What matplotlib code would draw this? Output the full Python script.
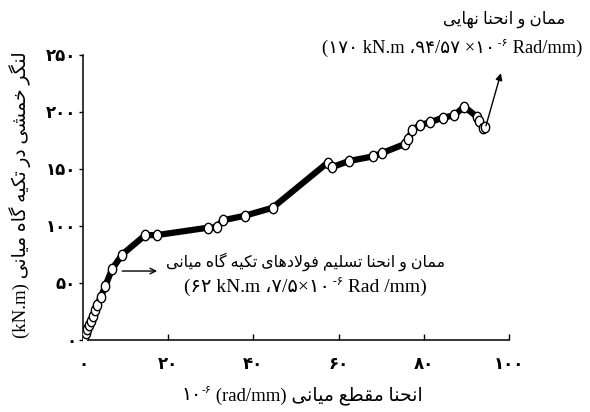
import matplotlib
matplotlib.use("Agg")
import matplotlib.pyplot as plt
import numpy as np
from matplotlib.path import Path

# curvature (x 10^-6 rad/mm) and moment (kN.m)
curv = [0.3, 0.6, 1.0, 1.4, 1.8, 2.3, 2.8, 3.4, 4.2, 5.2, 6.8, 9.2, 14.6, 17.3,
        29.3, 31.4, 32.8, 38.0, 44.5, 57.4, 58.4, 62.4, 68.0, 70.2,
        75.6, 76.4, 77.2, 79.1, 81.5, 84.4, 87.1, 89.5, 92.4, 93.0, 93.8, 94.4]
moment = [3, 6, 10, 13, 17, 21, 26, 31, 38, 47, 62, 75, 92, 92,
          98.5, 99, 105, 109, 116, 155.5, 151.5, 157, 161, 164,
          172, 176, 184, 188.6, 191, 195, 197, 204.7, 196, 192, 185.7, 187]
xticks = [0, 20, 40, 60, 80, 100]
yticks = [0, 50, 100, 150, 200, 250]

FAM = ['Liberation Serif', 'DejaVu Sans']

# minimal persian shaping (matplotlib does no joining / bidi)
FORMS = {
    '\u0627': (0xFE8D, 0xFE8E, None, None),
    '\u062A': (0xFE95, 0xFE96, 0xFE97, 0xFE98),
    '\u062D': (0xFEA1, 0xFEA2, 0xFEA3, 0xFEA4),
    '\u062E': (0xFEA5, 0xFEA6, 0xFEA7, 0xFEA8),
    '\u062F': (0xFEA9, 0xFEAA, None, None),
    '\u0631': (0xFEAD, 0xFEAE, None, None),
    '\u0633': (0xFEB1, 0xFEB2, 0xFEB3, 0xFEB4),
    '\u0634': (0xFEB5, 0xFEB6, 0xFEB7, 0xFEB8),
    '\u0637': (0xFEC1, 0xFEC2, 0xFEC3, 0xFEC4),
    '\u0639': (0xFEC9, 0xFECA, 0xFECB, 0xFECC),
    '\u0641': (0xFED1, 0xFED2, 0xFED3, 0xFED4),
    '\u0642': (0xFED5, 0xFED6, 0xFED7, 0xFED8),
    '\u0644': (0xFEDD, 0xFEDE, 0xFEDF, 0xFEE0),
    '\u0645': (0xFEE1, 0xFEE2, 0xFEE3, 0xFEE4),
    '\u0646': (0xFEE5, 0xFEE6, 0xFEE7, 0xFEE8),
    '\u0647': (0xFEE9, 0xFEEA, 0xFEEB, 0xFEEC),
    '\u0648': (0xFEED, 0xFEEE, None, None),
    '\u06CC': (0xFBFC, 0xFBFD, 0xFBFE, 0xFBFF),
    '\u06A9': (0xFB8E, 0xFB8F, 0xFB90, 0xFB91),
    '\u06AF': (0xFB92, 0xFB93, 0xFB94, 0xFB95),
}


def dual(c):
    return c in FORMS and FORMS[c][2] is not None


def rtl(s):
    s = s.replace('\u064A', '\u06CC').replace('\u0643', '\u06A9')
    res = []
    i = 0
    while i < len(s):
        c = s[i]
        if c not in FORMS:
            res.append(c)
            i += 1
            continue
        jp = i > 0 and dual(s[i - 1])
        if c == '\u0644' and i + 1 < len(s) and s[i + 1] == '\u0627':
            res.append(chr(0xFEFC if jp else 0xFEFB))
            i += 2
            continue
        jn = dual(c) and i + 1 < len(s) and s[i + 1] in FORMS
        iso, fin, ini, med = FORMS[c]
        g = med if (jp and jn) else fin if jp else ini if jn else iso
        res.append(chr(g))
        i += 1
    return ''.join(res)[::-1]


def fa(v):
    return str(v).translate(str.maketrans('0123456789', '۰۱۲۳۴۵۶۷۸۹'))


fig = plt.figure(figsize=(5.9, 4.12), dpi=100)
ax = fig.add_axes([83 / 590, 72 / 412, 426 / 590, 285 / 412])

ell = np.linspace(0, 2 * np.pi, 40)
oval = Path(np.column_stack([0.8 * np.cos(ell), np.sin(ell)]), closed=True)
ax.plot(curv, moment, color='black', lw=4.5, marker=oval, ms=7.5,
        mfc='white', mec='black', mew=1.0, zorder=3)

ax.set_xlim(0, 100)
ax.set_ylim(0, 250)
ax.set_xticks(xticks)
ax.set_xticklabels([fa(t) for t in xticks], family=FAM, fontsize=12, fontweight='bold')
ax.set_yticks(yticks)
ax.set_yticklabels([fa(t) for t in yticks], family=FAM, fontsize=12, fontweight='bold')
ax.tick_params(axis='x', direction='in', length=4.5, pad=12, width=1)
ax.tick_params(axis='y', direction='out', length=3, pad=2, width=1)
for s in ['top', 'right']:
    ax.spines[s].set_visible(False)
for s in ['left', 'bottom']:
    ax.spines[s].set_linewidth(1.1)


def chain(pieces, x, y, fs):
    # pieces: (text, scale, raise in points), drawn left to right on one baseline
    prev = ax.text(x, y, pieces[0][0], transform=fig.transFigure, family=FAM,
                   fontsize=fs * pieces[0][1], va='baseline', ha='left')
    for txt, sc, dy in pieces[1:]:
        prev = ax.annotate(txt, xy=(1, y), xycoords=(prev, 'figure fraction'),
                           xytext=(0, dy), textcoords='offset points',
                           family=FAM, fontsize=fs * sc, va='baseline', ha='left',
                           annotation_clip=False)
    return prev


# y label
fig.text(20 / 590, 0.527, '(kN.m) ' + rtl('لنگر خمشی در تکیه گاه میانی'),
         rotation=90, family=FAM, fontsize=13.5, ha='center', va='center')

# x label
chain([('۱۰', 1, 0), ('-۶', 0.6, 5), (' (rad/mm) ' + rtl('انحنا مقطع میانی'), 1, 0)],
      181 / 590, (412 - 400) / 412, 13.5)

# ultimate point note
fig.text(504 / 590, (412 - 24) / 412, rtl('ممان و انحنا نهایی'), family=FAM,
         fontsize=12, ha='center', va='baseline')
chain([('(۱۷۰ kN.m ،۹۴/۵۷ ×۱۰', 1, 0), (' -۶', 0.6, 5), (' Rad/mm)', 1, 0)],
      322 / 590, (412 - 53) / 412, 13.3)
ax.annotate('', xy=(98.1, 234), xytext=(94.6, 188),
            arrowprops=dict(arrowstyle='-|>', color='black', lw=1,
                            mutation_scale=10, shrinkA=0, shrinkB=0))

# yield point note
fig.text(305 / 590, (412 - 267) / 412, rtl('ممان و انحنا تسلیم فولادهای تکیه گاه میانی'),
         family=FAM, fontsize=11.4, ha='center', va='baseline')
chain([('(۶۲ kN.m ،۷/۵×۱۰', 1, 0), (' -۶', 0.6, 5), (' Rad /mm)', 1, 0)],
      184 / 590, (412 - 292) / 412, 14)
ax.annotate('', xy=(17.4, 60.5), xytext=(9.2, 60.5),
            arrowprops=dict(arrowstyle='->', color='black', lw=1,
                            mutation_scale=10, shrinkA=0, shrinkB=0))

fig.savefig('out.png', dpi=100)
